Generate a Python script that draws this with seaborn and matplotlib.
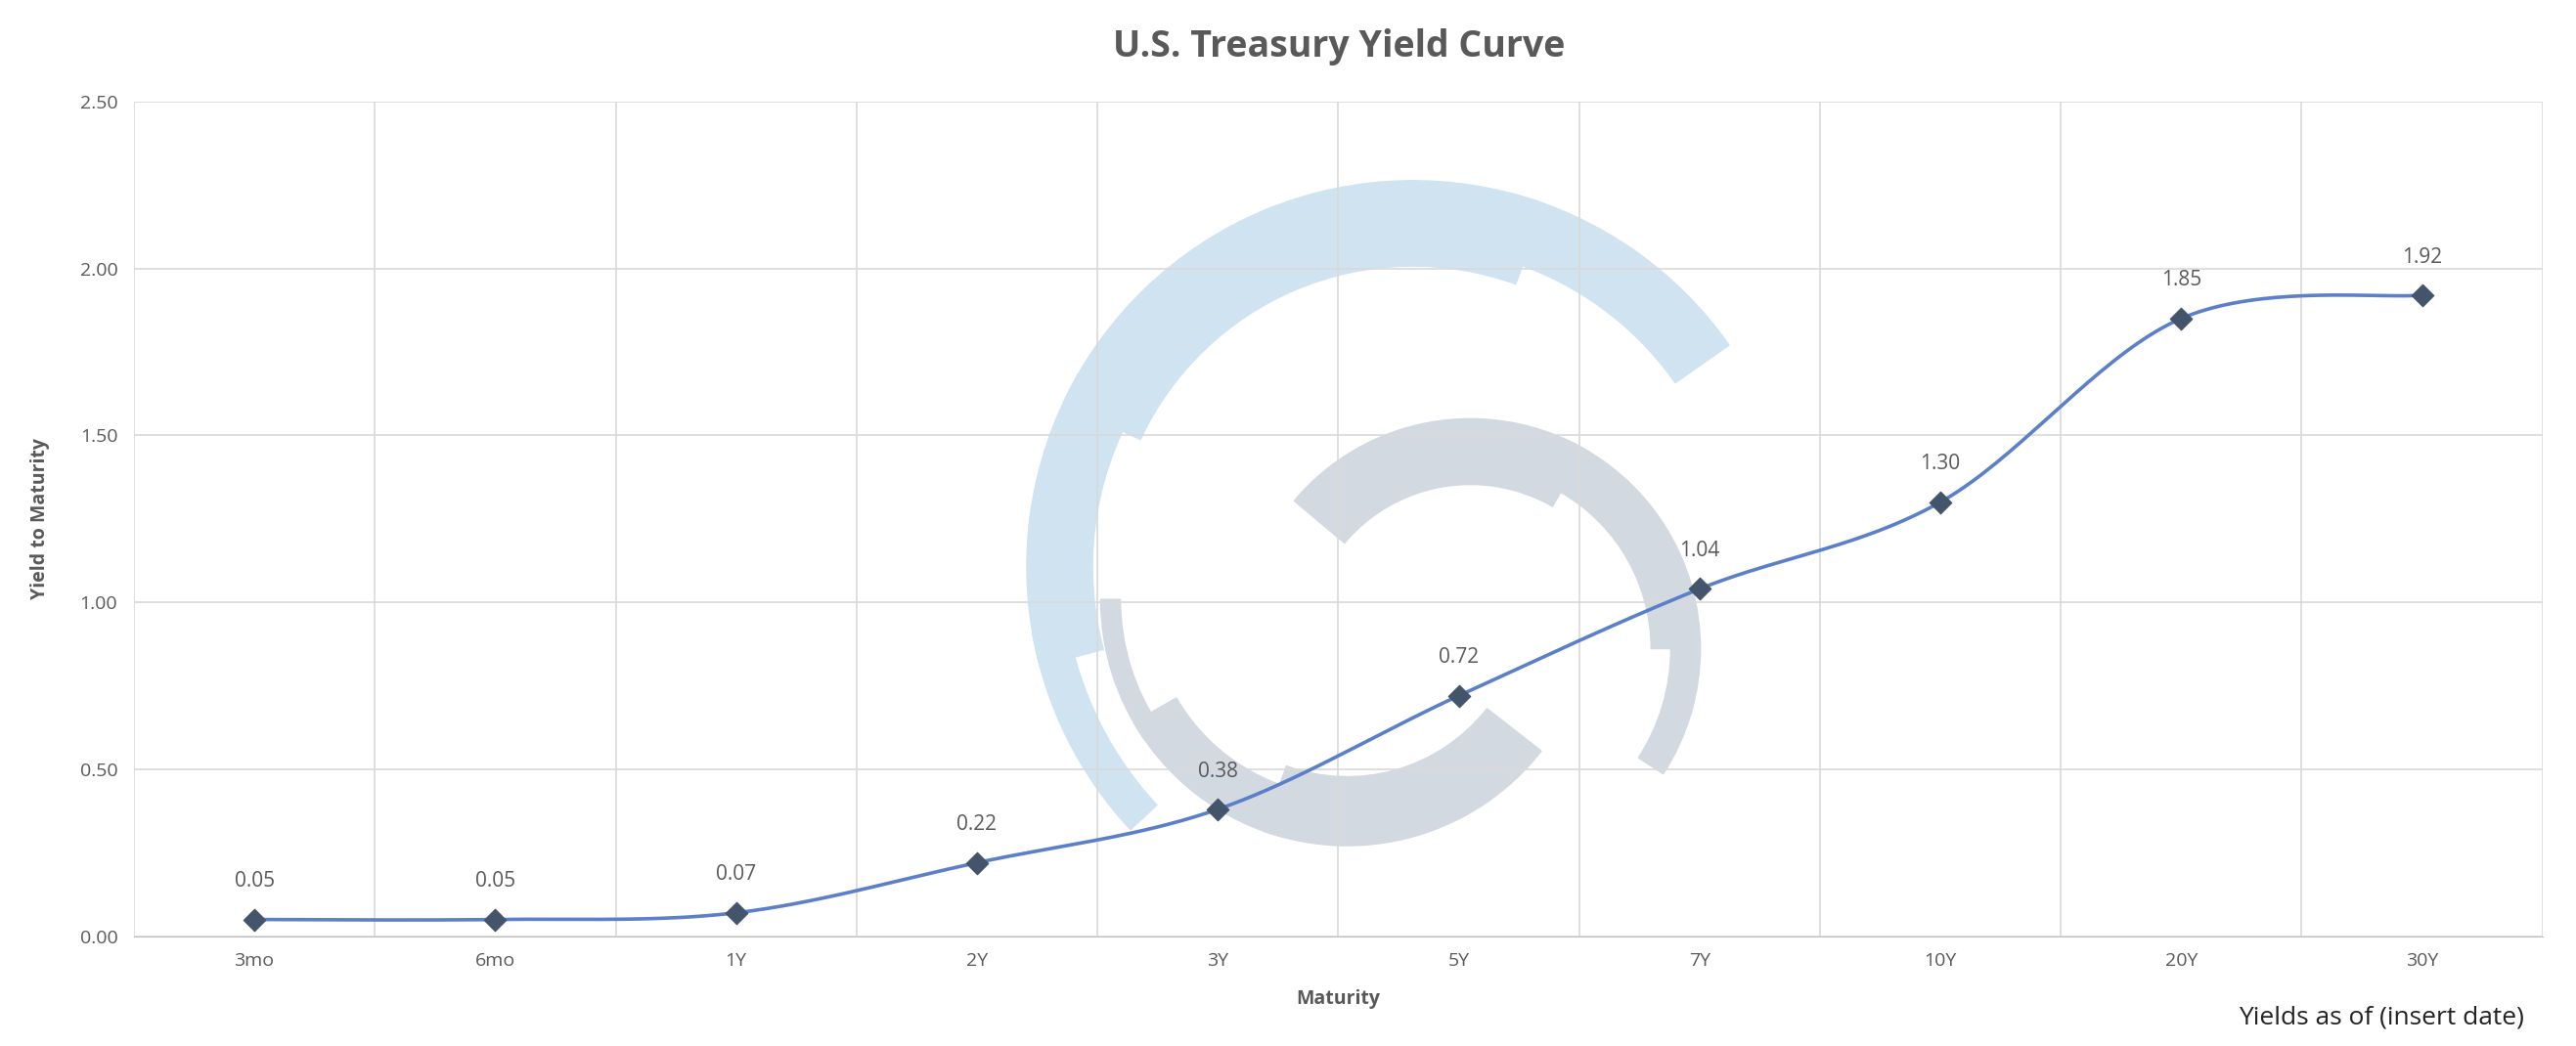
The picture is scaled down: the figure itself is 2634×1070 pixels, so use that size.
import numpy as np
import pandas as pd
import matplotlib
matplotlib.use("Agg")
import matplotlib.pyplot as plt
import seaborn as sns
from matplotlib.patches import Wedge

# data
maturities = ["3mo", "6mo", "1Y", "2Y", "3Y", "5Y", "7Y", "10Y", "20Y", "30Y"]
yields = [0.05, 0.05, 0.07, 0.22, 0.38, 0.72, 1.04, 1.30, 1.85, 1.92]
yticks = [0.0, 0.5, 1.0, 1.5, 2.0, 2.5]

df = pd.DataFrame({"Maturity": maturities, "Yield": yields})
df["pos"] = np.arange(len(df))

sns.set_style("white")
plt.rcParams["font.family"] = ["Open Sans", "DejaVu Sans"]

fig = plt.figure(figsize=(26.34, 10.70), dpi=100)

# watermark drawn in a background overlay (pixel frame of 1568 x 637, y down)
bg = fig.add_axes([0, 0, 1, 1], zorder=0)
bg.set_xlim(0, 1568)
bg.set_ylim(637, 0)
bg.axis("off")
blue, grey = "#d0e3f1", "#d3d9e1"
bg.add_patch(Wedge((860, 345), 235, 137, 170, width=22, color=blue))
bg.add_patch(Wedge((860, 345), 235, 165, 210, width=40, color=blue))
bg.add_patch(Wedge((860, 345), 235, 205, 290, width=52, color=blue))
bg.add_patch(Wedge((860, 345), 235, 285, 325, width=40, color=blue))
bg.add_patch(Wedge((895, 395), 140, 220, 300, width=40, color=grey))
bg.add_patch(Wedge((895, 395), 140, 295, 360, width=30, color=grey))
bg.add_patch(Wedge((895, 395), 140, 0, 33, width=18, color=grey))
bg.add_patch(Wedge((820, 365), 150, 38, 110, width=42, color=grey))
bg.add_patch(Wedge((820, 365), 150, 105, 150, width=30, color=grey))
bg.add_patch(Wedge((820, 365), 150, 145, 180, width=12, color=grey))

ax = fig.add_axes([0.052, 0.105, 0.935, 0.798], zorder=1)
ax.patch.set_alpha(0)

# Catmull-Rom smoothing like Excel's smoothed line
x = df["pos"].values.astype(float)
y = df["Yield"].values
px = np.concatenate([[x[0]], x, [x[-1]]])
py = np.concatenate([[y[0]], y, [y[-1]]])
sx, sy = [], []
t = np.linspace(0, 1, 40)
for i in range(1, len(px) - 2):
    for p, out in ((px, sx), (py, sy)):
        p0, p1, p2, p3 = p[i - 1], p[i], p[i + 1], p[i + 2]
        out.extend(0.5 * (2 * p1 + (-p0 + p2) * t + (2 * p0 - 5 * p1 + 4 * p2 - p3) * t ** 2
                          + (-p0 + 3 * p1 - 3 * p2 + p3) * t ** 3))
ax.plot(sx, sy, color="#5b7fc9", lw=2.6, zorder=2)
sns.scatterplot(data=df, x="pos", y="Yield", marker="D", s=130, color="#44546a",
                edgecolor="#44546a", ax=ax, zorder=3)

for xi, yi in zip(x, y):
    ax.annotate(f"{yi:.2f}", (xi, yi), xytext=(0, 24), textcoords="offset points",
                ha="center", fontsize=15, color="#595959")

ax.set_xlim(-0.5, 9.5)
ax.set_ylim(0, 2.5)
ax.set_xticks(x)
ax.set_xticklabels(maturities, fontsize=14, color="#595959")
ax.set_xticks(np.arange(-0.5, 10, 1), minor=True)
ax.set_yticks(yticks)
ax.set_yticklabels([f"{v:.2f}" for v in yticks], fontsize=14, color="#595959")
ax.tick_params(axis="both", which="both", length=0, pad=12)
ax.grid(False)
ax.grid(True, which="minor", axis="x", color="#d9d9d9", lw=1.2, zorder=0)
ax.grid(True, which="major", axis="y", color="#d9d9d9", lw=1.2, zorder=0)
for s in ["top", "right", "left"]:
    ax.spines[s].set_visible(False)
ax.spines["bottom"].set_color("#bfbfbf")

ax.set_xlabel("Maturity", fontsize=14, fontweight="bold", color="#595959", labelpad=14)
ax.set_ylabel("Yield to Maturity", fontsize=14, fontweight="bold", color="#595959", labelpad=22)
fig.text(0.52, 0.955, "U.S. Treasury Yield Curve", ha="center", va="center",
         fontsize=27, fontweight="bold", color="#595959")
fig.text(0.98, 0.027, "Yields as of (insert date)", ha="right", va="center",
         fontsize=19, color="#222222")

fig.savefig("out.png", dpi=100)
